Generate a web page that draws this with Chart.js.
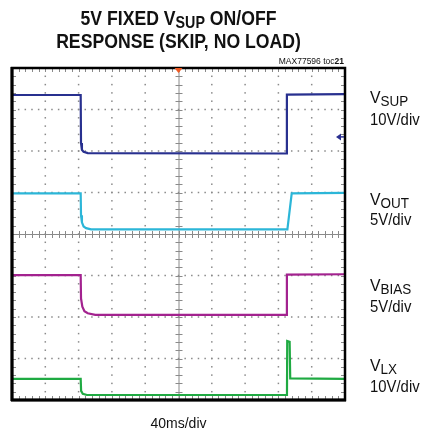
<!DOCTYPE html>
<html>
<head>
<meta charset="utf-8">
<script src="https://cdn.jsdelivr.net/npm/chart.js@4.4.0/dist/chart.umd.min.js"></script>
<style>
body { margin: 0; background: #fff; width: 427px; height: 433px; overflow: hidden; position: relative;
       font-family: "Liberation Sans", Arial, sans-serif; color: #111; }
#scope { position: absolute; left: 0; top: 0; }
.txt { position: absolute; white-space: nowrap; line-height: normal; }
.title { left: 0; width: 357px; text-align: center; font-weight: bold; font-size: 21px;
         transform: scaleX(0.84); transform-origin: 178.5px 0; }
.title sub { font-size: 17px; vertical-align: -3px; line-height: 0; }
.lbl { left: 370px; font-size: 17px; transform: scaleX(0.93); transform-origin: 0 0; }
.lbl sub { font-size: 14.5px; vertical-align: -2.5px; line-height: 0; }
.div { left: 370px; font-size: 16px; transform: scaleX(0.93); transform-origin: 0 0; }
</style>
</head>
<body>
<canvas id="scope" width="427" height="433"></canvas>

<div class="txt title" style="top:6px">5V FIXED V<sub>SUP</sub> ON/OFF</div>
<div class="txt title" style="top:29px">RESPONSE (SKIP, NO LOAD)</div>
<div class="txt" style="right:83px;top:56px;font-size:8.5px">MAX77596 toc<b>21</b></div>

<div class="txt lbl" style="top:87.6px">V<sub>SUP</sub></div>
<div class="txt div" style="top:111.2px">10V/div</div>
<div class="txt lbl" style="top:190.3px">V<sub>OUT</sub></div>
<div class="txt div" style="top:211.2px">5V/div</div>
<div class="txt lbl" style="top:276.3px">V<sub>BIAS</sub></div>
<div class="txt div" style="top:297.8px">5V/div</div>
<div class="txt lbl" style="top:356.3px">V<sub>LX</sub></div>
<div class="txt div" style="top:378.2px">10V/div</div>

<div class="txt" style="left:0;width:357px;text-align:center;top:415px;font-size:14px">40ms/div</div>

<script>
// time in ms (40ms/div, 10 div), values in screen divisions (0..8 from bottom)
var timeVsup = [0, 82.5, 82.9, 84, 86, 91, 330, 330.2, 400];
var vsup     = [7.35, 7.35, 6.19, 6.03, 5.98, 5.95, 5.94, 7.36, 7.37];

var timeVout = [0, 82.5, 82.9, 84, 86, 89, 95, 330.8, 336, 400];
var vout     = [4.98, 4.98, 4.45, 4.28, 4.18, 4.14, 4.11, 4.11, 4.98, 4.99];

var timeVbias = [0, 82.5, 82.9, 84.5, 87, 91, 100, 330, 330.2, 400];
var vbias     = [3.01, 3.01, 2.45, 2.25, 2.14, 2.09, 2.05, 2.05, 3.02, 3.03];

var timeVlx = [0, 82.5, 83, 85, 90, 330.3, 330.6, 333.5, 334.2, 400];
var vlx     = [0.51, 0.51, 0.22, 0.15, 0.12, 0.12, 1.42, 1.40, 0.52, 0.51];

var vsupGround = 6.34;   // ground marker of the VSUP channel
var triggerTime = 200;

function pts(t, v) {
    return t.map(function (x, i) { return { x: x, y: v[i] }; });
}

var scopeGrid = {
    id: 'scopeGrid',
    beforeDatasetsDraw: function (chart) {
        var ctx = chart.ctx, a = chart.chartArea;
        var w = a.right - a.left, h = a.bottom - a.top;
        var dx = w / 50, dy = h / 40;
        ctx.save();
        ctx.fillStyle = '#8a8a8a';
        // dotted major lines
        for (var i = 1; i < 10; i++) {
            if (i === 5) continue;
            var x = a.left + i * w / 10;
            for (var j = 1; j < 40; j++) ctx.fillRect(x - 0.75, a.top + j * dy - 0.75, 1.5, 1.5);
        }
        for (var i = 1; i < 8; i++) {
            if (i === 4) continue;
            var y = a.top + i * h / 8;
            for (var j = 1; j < 50; j++) ctx.fillRect(a.left + j * dx - 0.75, y - 0.75, 1.5, 1.5);
        }
        // center cross with minor ticks
        var cx = a.left + w / 2, cy = a.top + h / 2;
        ctx.strokeStyle = '#8a8a8a';
        ctx.lineWidth = 1;
        ctx.beginPath();
        ctx.moveTo(a.left, cy + 0.5); ctx.lineTo(a.right, cy + 0.5);
        ctx.moveTo(cx + 0.5, a.top); ctx.lineTo(cx + 0.5, a.bottom);
        for (var j = 1; j < 50; j++) {
            var x = Math.round(a.left + j * dx) + 0.5;
            ctx.moveTo(x, cy - 3); ctx.lineTo(x, cy + 4);
            ctx.moveTo(x, a.top); ctx.lineTo(x, a.top + 4);
            ctx.moveTo(x, a.bottom); ctx.lineTo(x, a.bottom - 4);
        }
        for (var j = 1; j < 40; j++) {
            var y = Math.round(a.top + j * dy) + 0.5;
            ctx.moveTo(cx - 3, y); ctx.lineTo(cx + 4, y);
            ctx.moveTo(a.left, y); ctx.lineTo(a.left + 4, y);
            ctx.moveTo(a.right, y); ctx.lineTo(a.right - 4, y);
        }
        ctx.stroke();
        ctx.restore();
    },
    afterDatasetsDraw: function (chart) {
        var ctx = chart.ctx, a = chart.chartArea;
        var xs = chart.scales.x, ys = chart.scales.y;
        ctx.save();
        ctx.strokeStyle = '#000';
        ctx.lineWidth = 2.5;
        ctx.strokeRect(a.left, a.top, a.right - a.left, a.bottom - a.top);
        ctx.fillStyle = '#000';
        ctx.fillRect(a.left - 1.5, a.top - 1, 3, a.bottom - a.top + 2);
        ctx.fillRect(a.left - 1, a.bottom - 1.5, a.right - a.left + 2, 3);
        // trigger marker
        var tx = xs.getPixelForValue(triggerTime);
        ctx.fillStyle = '#f05a22';
        ctx.beginPath();
        ctx.moveTo(tx - 4, a.top); ctx.lineTo(tx + 4, a.top); ctx.lineTo(tx, a.top + 5);
        ctx.closePath(); ctx.fill();
        // VSUP ground marker
        var gy = ys.getPixelForValue(vsupGround);
        ctx.fillStyle = '#2a2f8f';
        ctx.beginPath();
        ctx.moveTo(a.right - 9, gy); ctx.lineTo(a.right - 4, gy - 3.5); ctx.lineTo(a.right - 4, gy + 3.5);
        ctx.closePath(); ctx.fill();
        ctx.fillRect(a.right - 5, gy - 0.75, 4, 1.5);
        ctx.restore();
    }
};

var chart = new Chart(document.getElementById('scope'), {
    type: 'line',
    data: {
        datasets: [
            { label: 'VSUP', data: pts(timeVsup, vsup), borderColor: '#28308f' },
            { label: 'VOUT', data: pts(timeVout, vout), borderColor: '#2cb6d8' },
            { label: 'VBIAS', data: pts(timeVbias, vbias), borderColor: '#a3228f' },
            { label: 'VLX', data: pts(timeVlx, vlx), borderColor: '#1faa42' }
        ]
    },
    options: {
        responsive: false,
        animation: false,
        devicePixelRatio: 1,
        layout: { padding: { left: 12, top: 68, right: 82, bottom: 33 } },
        elements: {
            line: { borderWidth: 2.2, tension: 0, fill: false },
            point: { radius: 0 }
        },
        scales: {
            x: { type: 'linear', min: 0, max: 400, display: false },
            y: { type: 'linear', min: 0, max: 8, display: false }
        },
        plugins: {
            legend: { display: false },
            tooltip: { enabled: false }
        }
    },
    plugins: [scopeGrid]
});
</script>
</body>
</html>
